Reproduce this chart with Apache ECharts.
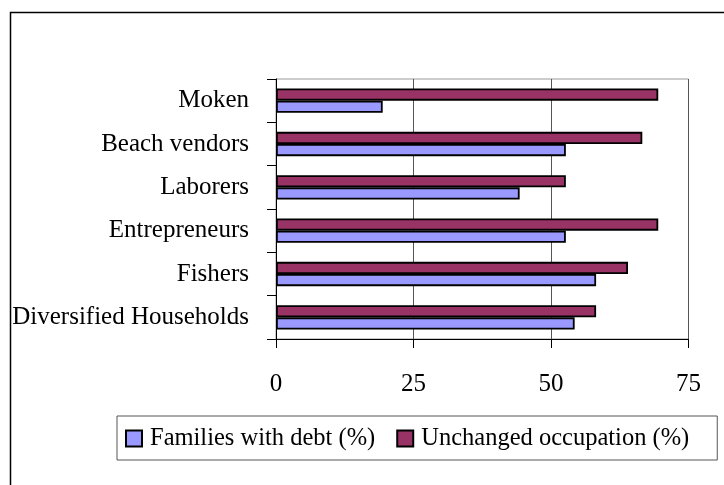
<!DOCTYPE html>
<html>
<head>
<meta charset="utf-8">
<title>chart</title>
<script src="https://cdn.jsdelivr.net/npm/echarts@6/dist/echarts.min.js"></script>
<style>
html, body { margin: 0; padding: 0; background: #fff; }
#main { width: 724px; height: 485px; }
</style>
</head>
<body>
<div id="main"></div>
<script>
// 分类（从下到上）
var categories = ['Diversified Households', 'Fishers', 'Entrepreneurs', 'Laborers', 'Beach vendors', 'Moken'];
// 有债务家庭 (%)
var debtValues = [54.3, 58.2, 52.7, 44.3, 52.7, 19.4];
// 职业未变 (%)
var unchangedValues = [58.2, 64.0, 69.5, 52.7, 66.6, 69.5];
// x轴刻度
var xTicks = [0, 25, 50, 75];

var seriesNames = ['Families with debt (%)', 'Unchanged occupation (%)'];
var fontName = 'Liberation Serif';

var chart = echarts.init(document.getElementById('main'));

chart.setOption({
	animation : false,
	backgroundColor : '#fff',
	textStyle : {
		fontFamily : fontName,
		color : '#000'
	},
	// 外框线
	graphic : [ {
		type : 'polyline',
		shape : {
			points : [ [ 10.5, 490 ], [ 10.5, 12.5 ], [ 730, 12.5 ] ]
		},
		style : {
			stroke : '#000',
			lineWidth : 1.5,
			fill : null
		}
	} ],
	grid : {
		left : 276,
		top : 79,
		right : 35.5,
		bottom : 146,
		show : true,
		borderColor : '#999',
		borderWidth : 1
	},
	legend : {
		// 图例顺序：先债务，后职业
		data : seriesNames,
		left : 117,
		top : 416,
		orient : 'horizontal',
		icon : 'rect',
		padding : [ 10, 28, 9, 8 ],
		itemWidth : 16,
		itemHeight : 16,
		itemGap : 21,
		borderColor : '#555',
		borderWidth : 1,
		textStyle : {
			fontFamily : fontName,
			fontSize : 24.5,
			color : '#000',
			padding : [ 0, 0, 0, 3 ]
		}
	},
	xAxis : {
		type : 'value',
		min : xTicks[0],
		max : xTicks[xTicks.length - 1],
		interval : 25,
		axisLine : {
			show : true,
			lineStyle : { color : '#000', width : 1 }
		},
		axisTick : {
			show : true,
			length : 9,
			lineStyle : { color : '#000' }
		},
		axisLabel : {
			margin : 33,
			fontFamily : fontName,
			fontSize : 25,
			color : '#000'
		},
		splitLine : {
			show : true,
			lineStyle : { color : '#555', width : 1 }
		}
	},
	yAxis : {
		type : 'category',
		data : categories,
		axisLine : {
			show : true,
			lineStyle : { color : '#000', width : 1 }
		},
		axisTick : {
			show : true,
			length : 9,
			lineStyle : { color : '#000' }
		},
		axisLabel : {
			margin : 27,
			fontFamily : fontName,
			fontSize : 25,
			color : '#000',
			padding : [ 4, 0, 0, 0 ]
		}
	},
	// 第一个系列画在上面，所以职业系列放在前面
	series : [ {
		name : seriesNames[1],
		type : 'bar',
		data : unchangedValues,
		barGap : '0%',
		barCategoryGap : '44%',
		itemStyle : {
			color : '#993366',
			borderColor : '#000',
			borderWidth : 1.8
		}
	}, {
		name : seriesNames[0],
		type : 'bar',
		data : debtValues,
		barGap : '0%',
		barCategoryGap : '44%',
		itemStyle : {
			color : '#9999FF',
			borderColor : '#000',
			borderWidth : 1.8
		}
	} ]
});
</script>
</body>
</html>
